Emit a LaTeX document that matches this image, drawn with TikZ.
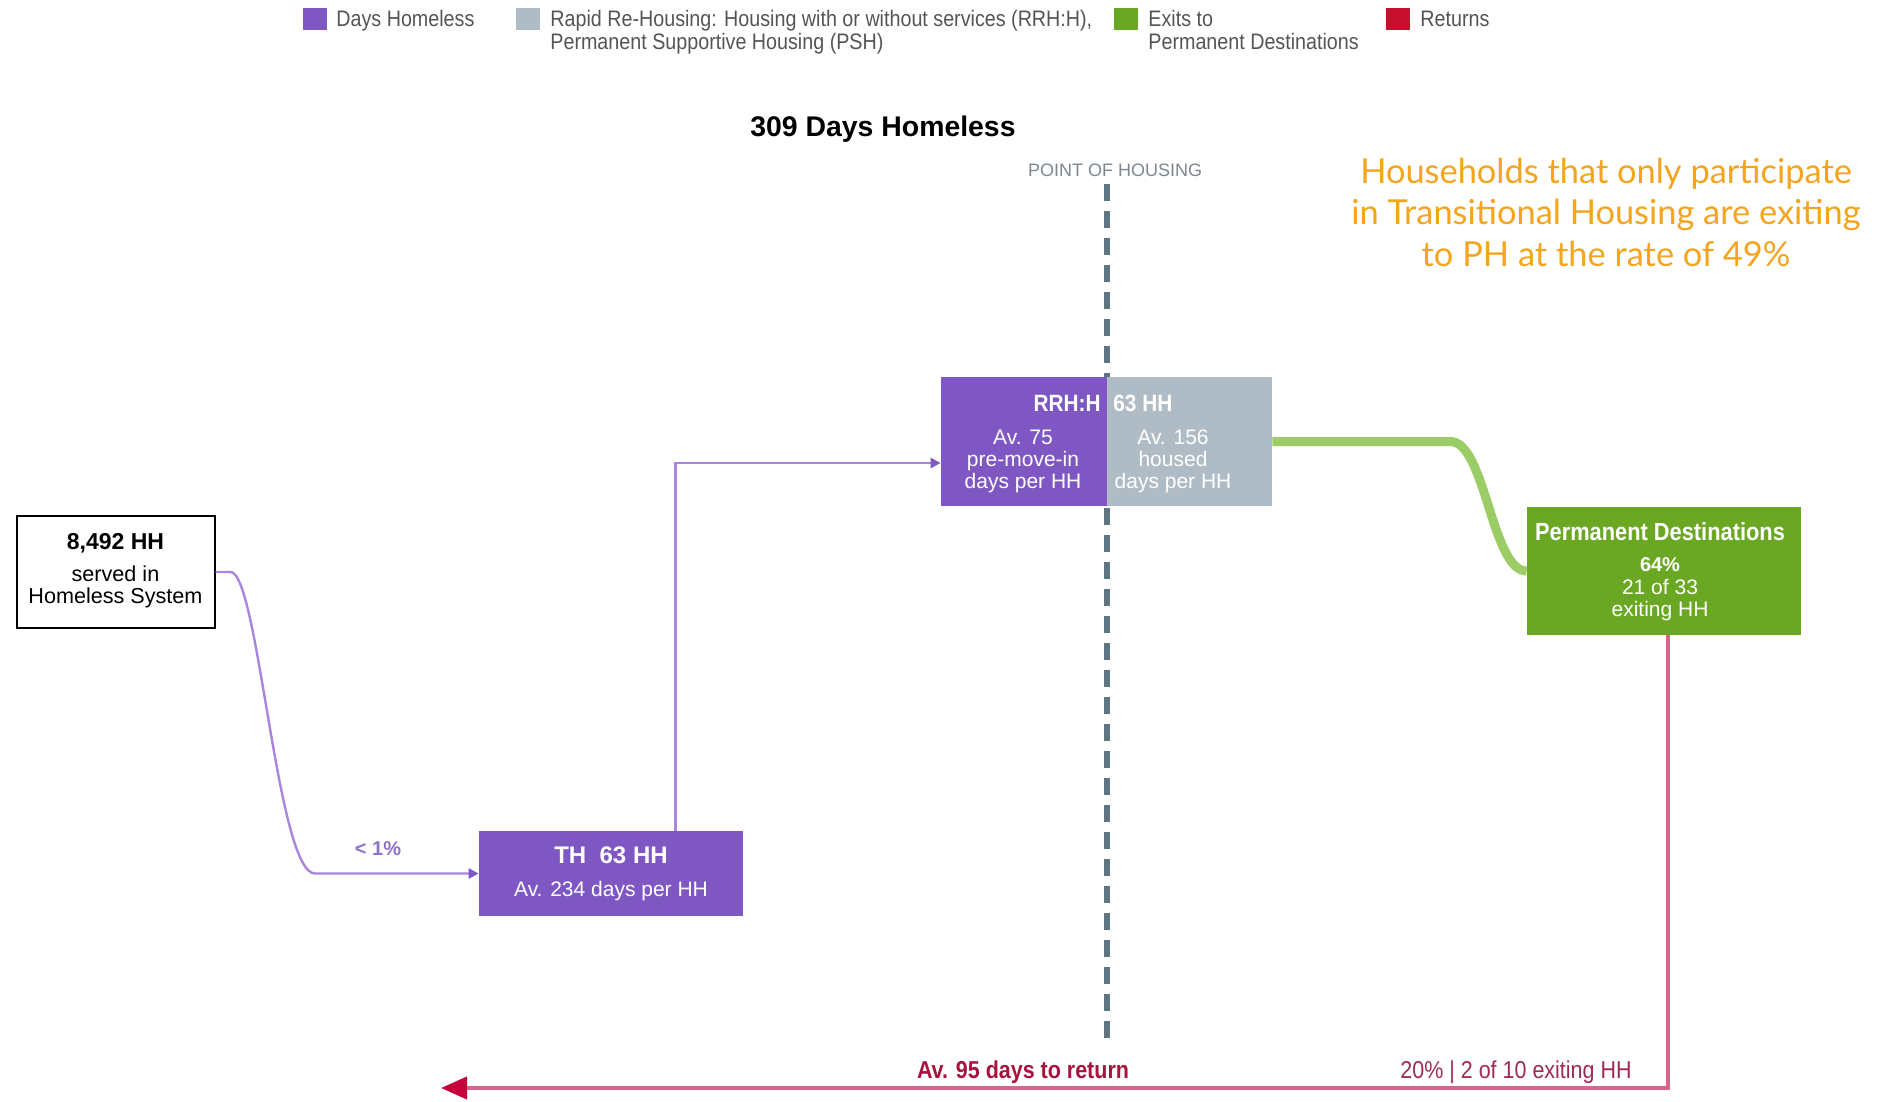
\documentclass[tikz,border=0pt]{standalone}
\usepackage{fontspec}
\setmainfont{Liberation Sans}
\newfontfamily\cond[FakeStretch=0.88]{Liberation Sans}
\newfontfamily\orangefont{Lato}
\usetikzlibrary{arrows.meta}
\definecolor{hpurple}{HTML}{7E57C2}
\definecolor{hgray}{HTML}{B0BCC5}
\definecolor{hgreen}{HTML}{6AA823}
\definecolor{hred}{HTML}{C8102E}
\definecolor{lpurple}{HTML}{A886DC}
\definecolor{lgreen}{HTML}{9CCC65}
\definecolor{lpink}{HTML}{D4688A}
\definecolor{arrowred}{HTML}{C8003C}
\definecolor{dashcol}{HTML}{5F7682}
\definecolor{txtred}{HTML}{A8123E}
\definecolor{txtred2}{HTML}{9E2A55}
\definecolor{orangec}{HTML}{F5A41E}
\definecolor{leggray}{HTML}{555555}
\definecolor{pohgray}{HTML}{7C8790}
\tikzset{
  legsq/.style={draw=none,minimum width=12pt,minimum height=11pt,inner sep=0pt},
  legtxt/.style={anchor=mid west,inner sep=0pt,text=leggray,font=\cond\fontsize{11.2}{12}\selectfont},
  box/.style={draw=none,inner sep=0pt},
  wtxt/.style={text=white,inner sep=0pt,align=center},
  plink/.style={draw=lpurple,line width=1.2pt},
  glink/.style={draw=lgreen,line width=4.5pt},
  rlink/.style={draw=lpink,line width=2pt},
}
\begin{document}
\begin{tikzpicture}[x=0.5pt,y=-0.5pt]
\useasboundingbox[fill=white] (0,0) rectangle (1890,1102);

% legend
\node[legsq,fill=hpurple] (lg1) at (315,19) {};
\node[legtxt] (lt1) at (336,21.5) {Days Homeless};
\node[legsq,fill=hgray] (lg2) at (528,19) {};
\node[legtxt] (lt2a) at (550,21.5) {Rapid Re-Housing: Housing with or without services (RRH:H),};
\node[legtxt] (lt2b) at (550,44.5) {Permanent Supportive Housing (PSH)};
\node[legsq,fill=hgreen] (lg3) at (1126,19) {};
\node[legtxt] (lt3a) at (1148,21.5) {Exits to};
\node[legtxt] (lt3b) at (1148,44.5) {Permanent Destinations};
\node[legsq,fill=hred] (lg4) at (1398,19) {};
\node[legtxt] (lt4) at (1420,21.5) {Returns};

% title
\node[inner sep=0pt,anchor=mid,font=\bfseries\fontsize{14.2}{16}\selectfont] (title) at (883,131) {309 Days Homeless};
\node[inner sep=0pt,anchor=mid,text=pohgray,font=\fontsize{9}{10}\selectfont] (poh) at (1115,171) {POINT OF HOUSING};

% orange note
\node[inner sep=0pt,align=center,text=orangec,font=\orangefont\fontsize{17.2}{20.75}\selectfont] (note) at (1606,212) {Households that only participate\\in Transitional Housing are exiting\\to PH at the rate of 49\%};

% point of housing dashed line
\coordinate (dtop) at (1107,184);
\coordinate (dbot) at (1107,1044);
\draw[dashcol,line width=2.6pt,dash pattern=on 8.5pt off 5pt] (dtop) -- (dbot);

% boxes
\node[box,draw=black,line width=1pt,fill=white,minimum width=99pt,minimum height=56pt] (start) at (115.5,572) {};
\node[inner sep=0pt,align=center,font=\fontsize{10.8}{11}\selectfont] (startt) at (115.5,571)
  {{\bfseries\fontsize{11.5}{12}\selectfont 8,492 HH}\\[5pt]served in\\Homeless System};

\node[box,fill=hpurple,minimum width=132pt,minimum height=42.5pt] (th) at (611,873.5) {};
\node[wtxt,font=\bfseries\fontsize{12}{13}\selectfont,anchor=mid] (tht) at (611,858.5) {TH\ \ 63 HH};
\node[wtxt,font=\fontsize{10.5}{12}\selectfont,anchor=mid] (thb) at (611,891.5) {Av. 234 days per HH};

\node[box,fill=hpurple,minimum width=83pt,minimum height=64.5pt] (rrhL) at (1024,441.5) {};
\node[box,fill=hgray,minimum width=82.5pt,minimum height=64.5pt] (rrhR) at (1189.5,441.5) {};
\node[wtxt,font=\bfseries\cond\fontsize{11.8}{12}\selectfont,anchor=mid east] (rrht1) at (1101,406.5) {RRH:H};
\node[wtxt,font=\bfseries\cond\fontsize{11.8}{12}\selectfont,anchor=mid west] (rrht2) at (1113,406.5) {63 HH};
\node[wtxt,font=\fontsize{10.5}{11}\selectfont] (rrhb1) at (1023,461) {Av. 75\\pre-move-in\\days per HH};
\node[wtxt,font=\fontsize{10.5}{11}\selectfont] (rrhb2) at (1173,461) {Av. 156\\housed\\days per HH};

\node[box,fill=hgreen,minimum width=137pt,minimum height=64pt] (pd) at (1664,571) {};
\node[wtxt,font=\bfseries\cond\fontsize{12.4}{13}\selectfont,anchor=mid] (pdt) at (1660,535.5) {Permanent Destinations};
\node[wtxt,font=\bfseries\fontsize{10}{11}\selectfont,anchor=mid] (pdp) at (1660,566.5) {64\%};
\node[wtxt,font=\fontsize{10.5}{11}\selectfont,anchor=mid] (pd1) at (1660,589.5) {21 of 33};
\node[wtxt,font=\fontsize{10.5}{11}\selectfont,anchor=mid] (pd2) at (1660,611.5) {exiting HH};

% connectors
\draw[plink,-{Triangle[length=5pt,width=5pt,color=hpurple]}] (start.east) -- ++(15,0)
  .. controls +(28,0) and +(-38,0) .. (315,873.5) -- (th.west);
\node[inner sep=0pt,anchor=mid,text=hpurple!85,font=\bfseries\fontsize{10}{11}\selectfont] (pct) at (378,850) {< 1\%};

\draw[plink,-{Triangle[length=5pt,width=5pt,color=hpurple]}] ([xshift=98.5pt]th.north west) |- ([yshift=-10.75pt]rrhL.west);

\draw[glink] (rrhR.east) -- ++(178,0) .. controls +(35,0) and +(-35,0) .. (pd.west);

\coordinate (ret) at (441,1088);
\draw[rlink,-{Triangle[length=13pt,width=11pt,color=arrowred]}] ([xshift=2pt]pd.south) |- (ret);
\node[inner sep=0pt,anchor=mid,text=txtred,font=\bfseries\cond\fontsize{12.2}{13}\selectfont] (avret) at (1023,1073.5) {Av. 95 days to return};
\node[inner sep=0pt,anchor=mid,text=txtred2,font=\cond\fontsize{12.2}{13}\selectfont] (retpct) at (1516,1073.5) {20\% | 2 of 10 exiting HH};
\end{tikzpicture}
\end{document}
